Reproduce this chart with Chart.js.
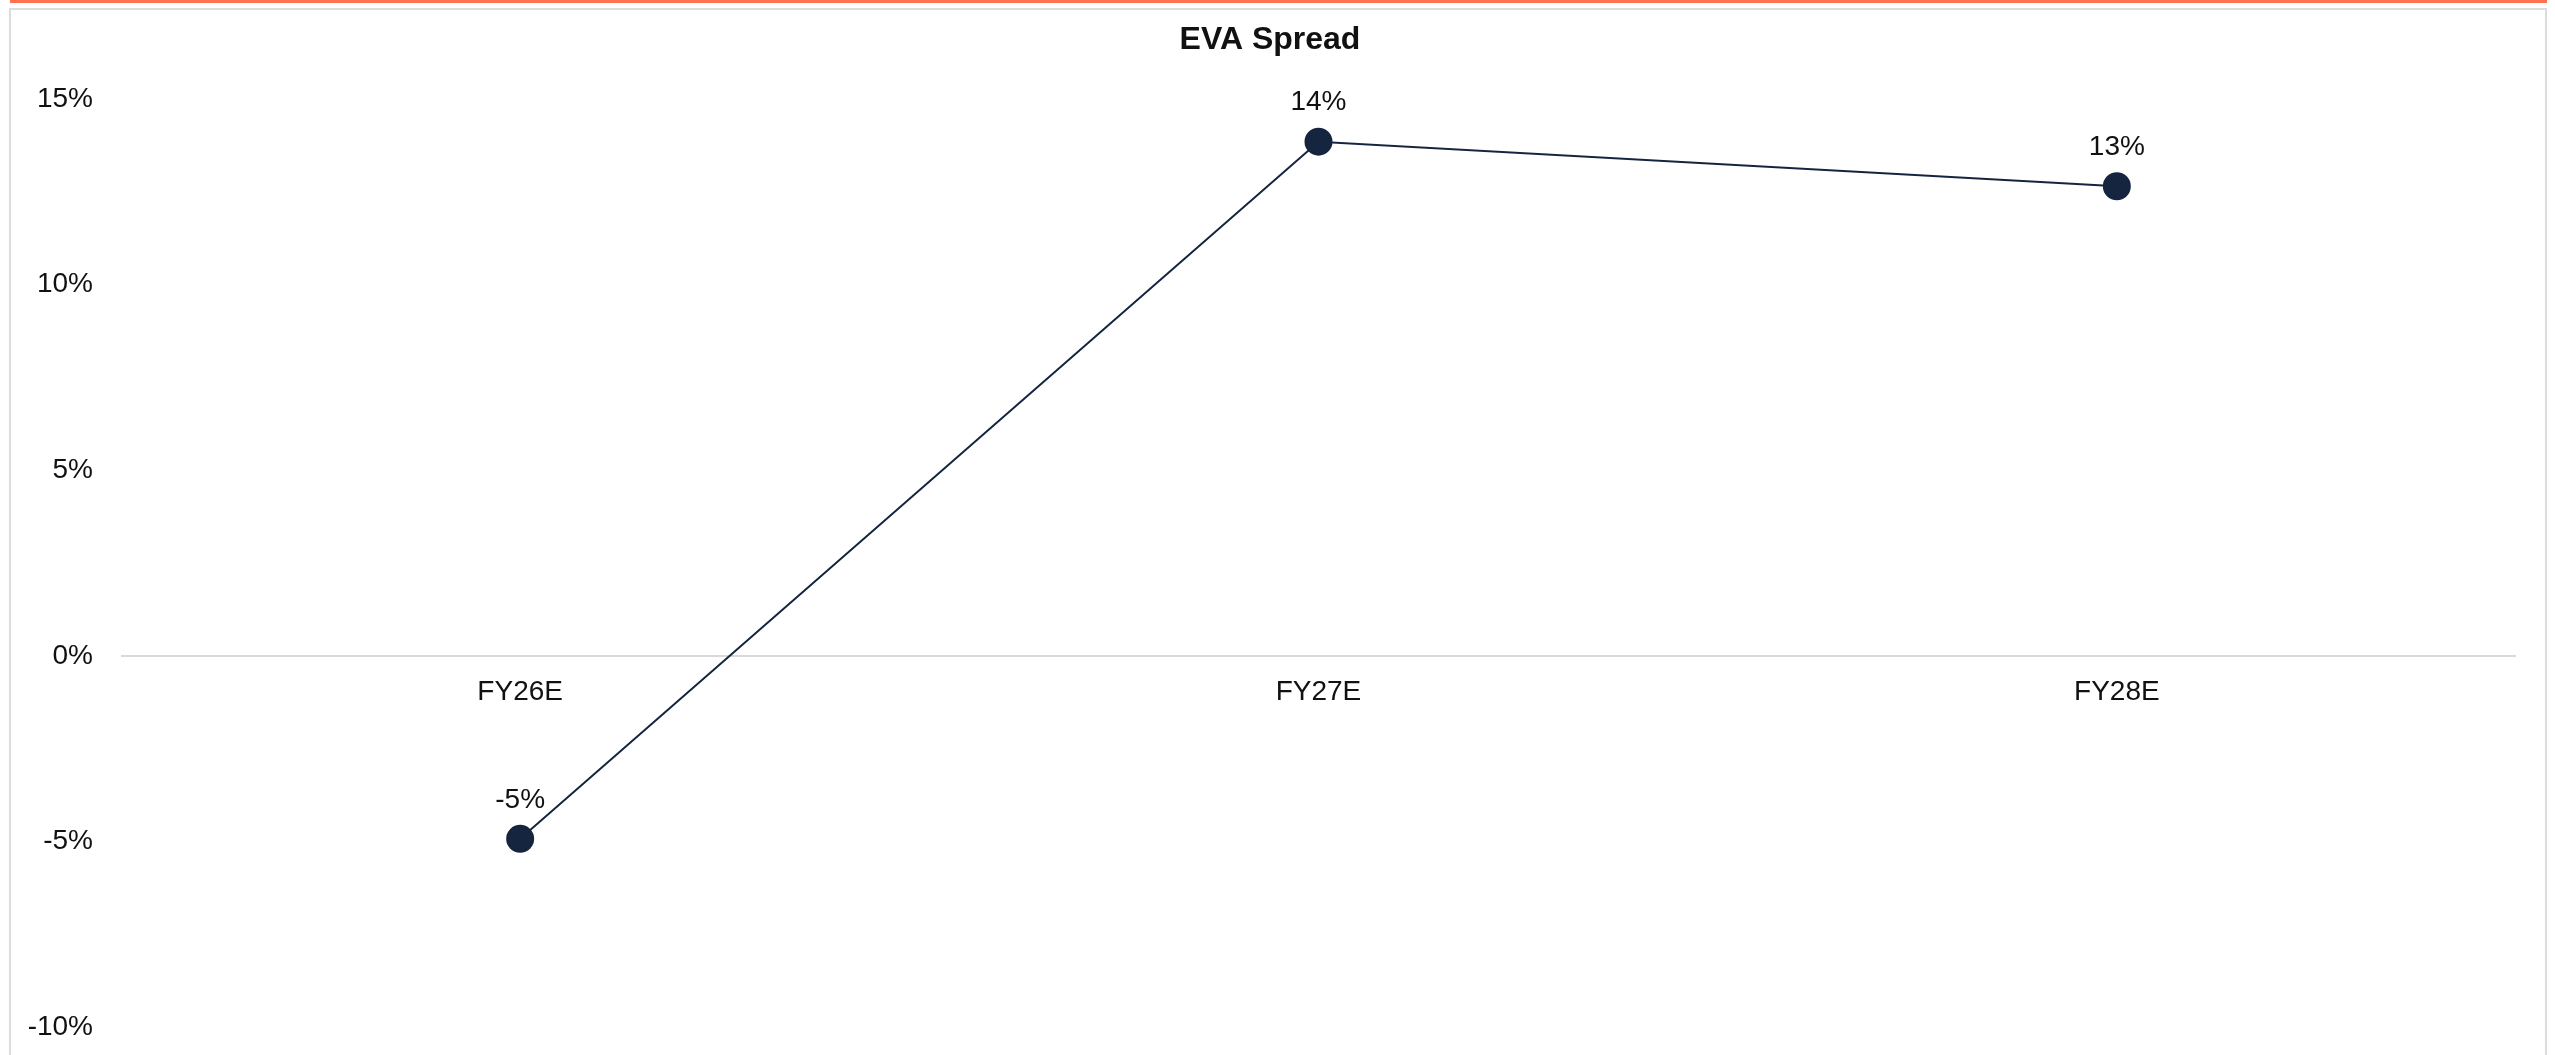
<!DOCTYPE html>
<html>
<head>
<meta charset="utf-8">
<script src="https://cdn.jsdelivr.net/npm/chart.js@4.4.0/dist/chart.umd.min.js"></script>
<style>
  html, body { margin: 0; padding: 0; background: #fff; overflow: hidden; }
  body { width: 2555px; height: 1055px; position: relative; }
  .topbar { position: absolute; left: 10px; top: 0; width: 2537px; height: 3px; background: #ff7150; }
  .frame { position: absolute; left: 9px; top: 8px; width: 2534px; height: 1100px; border: 2px solid #dcdcdc; border-bottom: none; }
  .wrap { position: absolute; left: 0; top: 0; width: 2555px; height: 1055px; }
</style>
</head>
<body>
<div class="topbar"></div>
<div class="frame"></div>
<div class="wrap"><canvas id="evaChart" width="2555" height="1055"></canvas></div>
<script>
const chartTitle = 'EVA Spread';
const categories = ['FY26E', 'FY27E', 'FY28E'];
const evaSpread = [-4.93, 13.85, 12.65];
const pointLabels = ['-5%', '14%', '13%'];
const yMin = -10, yMax = 15, yStep = 5;

const FONT = "'Liberation Sans', Arial, sans-serif";
const NAVY = '#15253f';

// title + value text above each point
const textPlugin = {
    id: 'texts',
    afterDatasetsDraw(chart) {
        const ctx = chart.ctx;
        const meta = chart.getDatasetMeta(0);
        ctx.save();
        ctx.fillStyle = '#111';
        ctx.textAlign = 'center';
        ctx.textBaseline = 'middle';
        ctx.font = `bold 32px ${FONT}`;
        ctx.fillText(chartTitle, 1270, 40);
        ctx.font = `28px ${FONT}`;
        meta.data.forEach((pt, i) => {
            ctx.fillText(pointLabels[i], pt.x, pt.y - 39);
        });
        ctx.restore();
    }
};

new Chart(document.getElementById('evaChart'), {
    type: 'line',
    data: {
        labels: categories,
        datasets: [{
            data: evaSpread,
            borderColor: NAVY,
            borderWidth: 2,
            backgroundColor: NAVY,
            pointBackgroundColor: NAVY,
            pointBorderColor: NAVY,
            pointRadius: 13,
            pointHoverRadius: 13,
            tension: 0,
            fill: false
        }]
    },
    options: {
        responsive: false,
        animation: false,
        layout: { padding: { left: 0, right: 39, top: 99, bottom: 28 } },
        plugins: {
            legend: { display: false },
            tooltip: { enabled: false },
            title: { display: false }
        },
        scales: {
            x: {
                position: { y: 0 },
                offset: true,
                grid: { display: false, drawTicks: false },
                border: { display: false },
                ticks: {
                    color: '#111',
                    padding: 20,
                    font: { family: FONT, size: 28 }
                }
            },
            y: {
                min: yMin,
                max: yMax,
                afterFit(scale) {
                    scale.width = 121;
                    scale.paddingTop = 0;
                    scale.paddingBottom = 0;
                },
                grid: {
                    drawTicks: false,
                    lineWidth: 2,
                    color: c => (c.tick && c.tick.value === 0 ? '#d9d9d9' : 'rgba(0,0,0,0)')
                },
                border: { display: false },
                ticks: {
                    stepSize: yStep,
                    padding: 28,
                    color: '#111',
                    font: { family: FONT, size: 28 },
                    callback: v => v + '%'
                }
            }
        }
    },
    plugins: [textPlugin]
});
</script>
</body>
</html>
